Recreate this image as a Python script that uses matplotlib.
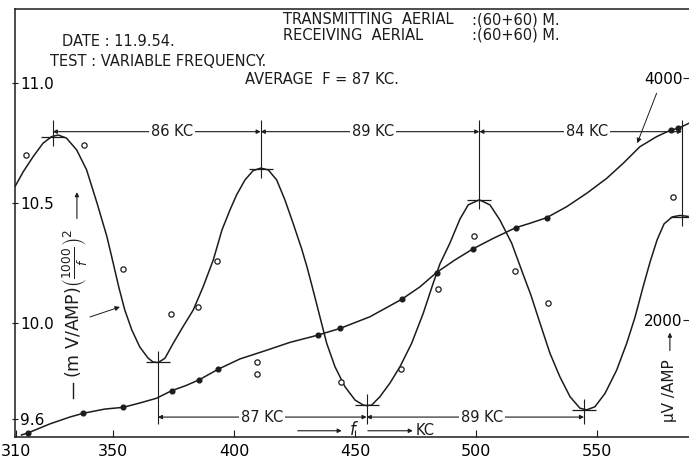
import matplotlib
matplotlib.use("Agg")
import matplotlib.pyplot as plt

plt.rcParams['font.family'] = ['DejaVu Sans']
ink = '#1c1c1c'

# (mV/AMP)(1000/f)^2 curve, left scale
curve_f = [309.5, 312.8, 316.9, 321.0, 324.5, 327.3, 330.7, 334.9, 339.0, 343.3,
           347.4, 349.9, 352.4, 354.8, 357.7, 361.0, 364.4, 366.4, 368.6, 371.4,
           374.8, 378.9, 383.1, 387.2, 391.4, 395.0, 398.3, 401.0, 404.5, 407.9,
           411.0, 414.1, 417.6, 421.0, 424.4, 427.9, 430.1, 432.2, 435.5, 438.3,
           441.7, 445.8, 450.0, 453.4, 455.0, 456.9, 460.3, 464.4, 468.6, 473.4,
           478.2, 482.3, 485.1, 489.2, 493.4, 496.8, 501.4, 505.8, 509.9, 514.8,
           519.6, 522.7, 526.5, 530.6, 534.7, 538.9, 543.0, 545.8, 549.2, 553.4,
           558.2, 562.4, 565.8, 569.1, 572.0, 574.9, 577.8, 581.2, 584.4, 587.7]
curve_v = [10.57, 10.63, 10.693, 10.749, 10.776, 10.783, 10.77, 10.721, 10.638, 10.50,
           10.36, 10.254, 10.146, 10.054, 9.971, 9.90, 9.854, 9.838, 9.835, 9.853,
           9.915, 9.985, 10.054, 10.151, 10.263, 10.388, 10.471, 10.533, 10.596, 10.635,
           10.645, 10.638, 10.596, 10.513, 10.415, 10.31, 10.235, 10.155, 10.025, 9.915,
           9.818, 9.735, 9.679, 9.658, 9.656, 9.658, 9.693, 9.749, 9.818, 9.915,
           10.04, 10.165, 10.246, 10.332, 10.433, 10.492, 10.513, 10.492, 10.429, 10.332,
           10.20, 10.117, 9.999, 9.874, 9.776, 9.693, 9.645, 9.638, 9.651, 9.707,
           9.804, 9.917, 10.025, 10.15, 10.254, 10.346, 10.413, 10.442, 10.448, 10.444]

# open circles (measured points for the curve above)
circ_f = [313.8, 338.0, 354.1, 373.9, 385.0, 393.0, 409.3, 409.3, 444.2, 468.9,
          484.4, 499.3, 516.0, 529.7, 581.3]
circ_v = [10.70, 10.742, 10.224, 10.036, 10.065, 10.26, 9.837, 9.788, 9.753, 9.808,
          10.143, 10.363, 10.217, 10.082, 10.526]

# uV/AMP curve, right scale
uv_f = [312.1, 314.7, 323.8, 332.1, 337.6, 346.6, 354.1, 361.0, 367.9, 374.2,
        379.7, 385.4, 393.4, 402.4, 412.7, 423.1, 434.5, 443.9, 456.2, 469.3,
        476.8, 483.7, 491.3, 498.9, 507.2, 516.5, 522.3, 529.2, 537.5, 545.8,
        554.1, 560.9, 567.8, 574.7, 580.6, 583.7, 588.1]
uv_r = [1050, 1066, 1141, 1198, 1229, 1264, 1278, 1314, 1353, 1416,
        1455, 1504, 1593, 1678, 1745, 1815, 1874, 1931, 2027, 2171,
        2273, 2392, 2496, 2589, 2675, 2763, 2799, 2845, 2936, 3047,
        3171, 3295, 3432, 3515, 3570, 3584, 3626]
dot_f = [314.7, 337.6, 354.1, 374.2, 385.4, 393.4, 434.5, 443.9, 469.3, 483.7,
         498.9, 516.5, 529.2, 580.6, 583.7]
dot_r = [1066, 1229, 1278, 1416, 1504, 1593, 1874, 1931, 2171, 2392,
         2589, 2763, 2845, 3570, 3584]

# maxima / minima and the spacings between them
peak_f = [325.0, 411.0, 501.4, 585.2]
peak_v = [10.776, 10.642, 10.513, 10.443]
trough_f = [368.5, 454.8, 544.7]
trough_v = [9.838, 9.658, 9.638]
top_gaps = ['86 KC', '89 KC', '84 KC']
top_gap_pos = [374.3, 457.4, 545.8]
bot_gaps = ['87 KC', '89 KC']
bot_gap_pos = [411.5, 502.5]

x_ticks = [310, 350, 400, 450, 500, 550]
left_ticks = [9.6, 10.0, 10.5, 11.0]
right_ticks = [2000, 4000]

fig = plt.figure(figsize=(6.89, 4.66), dpi=100)
ax = fig.add_axes([15/689, 1 - 437/466, 1 - 15/689, 428/466])
ax.set_xlim(309.4, 588.1)
ax.set_ylim(9.525, 11.308)
ax2 = ax.twinx()
ax2.set_ylim(1033, 4570)

for s in ['left', 'top', 'bottom']:
    ax.spines[s].set_color(ink)
    ax.spines[s].set_linewidth(1.1)
ax.spines['right'].set_visible(False)
for s in ax2.spines.values():
    s.set_visible(False)

ax.set_xticks(x_ticks)
ax.set_xticklabels([str(t) for t in x_ticks])
ax.tick_params(axis='x', direction='in', length=5, pad=5, labelsize=11.5, color=ink)
ax.set_yticks(left_ticks)
ax.set_yticklabels(['9.6', '10.0', '10.5', '11.0'])
ax.tick_params(axis='y', direction='inout', length=4, pad=-5.5, labelsize=11, color=ink)
for lab in ax.get_yticklabels():
    lab.set_horizontalalignment('left')
ax2.set_yticks(right_ticks)
ax2.set_yticklabels(['2000', '4000'])
ax2.tick_params(axis='y', direction='in', length=4, pad=-4.5, labelsize=11, color=ink)
for lab in ax2.get_yticklabels():
    lab.set_horizontalalignment('right')

# curves and points
ax.plot(curve_f, curve_v, color=ink, lw=1.1, zorder=3)
ax.plot(circ_f, circ_v, 'o', ms=3.8, mfc='white', mec=ink, mew=0.9, zorder=4)
ax2.plot(uv_f, uv_r, color=ink, lw=1.1, zorder=3)
ax2.plot(dot_f, dot_r, 'o', ms=3.4, color=ink, zorder=4)

# crosses at maxima and minima
top_y = 10.797
bot_y = 9.608
ax.vlines(peak_f, [v - 0.04 for v in peak_v], top_y + 0.05, color=ink, lw=0.8)
ax.hlines(peak_v, [f - 5 for f in peak_f], [f + 5 for f in peak_f], color=ink, lw=0.9)
ax.vlines(trough_f, [v + 0.045 for v in trough_v], 9.58, color=ink, lw=0.8)
ax.hlines(trough_v, [f - 5 for f in trough_f], [f + 5 for f in trough_f], color=ink, lw=0.9)

arrow = dict(arrowstyle='<|-|>', lw=0.8, color=ink, shrinkA=0, shrinkB=0,
             mutation_scale=6)
for i, lab in enumerate(top_gaps):
    ax.annotate('', xy=(peak_f[i], top_y), xytext=(peak_f[i + 1], top_y),
                arrowprops=arrow, zorder=2)
    ax.text(top_gap_pos[i], top_y, lab, ha='center', va='center', fontsize=10.5,
            color=ink, zorder=5,
            bbox=dict(fc='white', ec='none', pad=1.5))
for i, lab in enumerate(bot_gaps):
    ax.annotate('', xy=(trough_f[i], bot_y), xytext=(trough_f[i + 1], bot_y),
                arrowprops=arrow, zorder=2)
    ax.text(bot_gap_pos[i], bot_y, lab, ha='center', va='center', fontsize=10.5,
            color=ink, zorder=5,
            bbox=dict(fc='white', ec='none', pad=1.5))

# f -> KC note under the minima
small = dict(arrowstyle='-|>', lw=0.8, color=ink, shrinkA=0, shrinkB=0,
             mutation_scale=6)
ax.annotate('', xy=(444.5, 9.551), xytext=(426.3, 9.551), arrowprops=small)
ax.text(449.5, 9.553, r'$f$', ha='center', va='center', fontsize=12, color=ink)
ax.annotate('', xy=(473.9, 9.551), xytext=(455.3, 9.551), arrowprops=small)
ax.text(475.0, 9.553, 'KC', ha='left', va='center', fontsize=10.5, color=ink)

# axis captions
ax.text(334.0, 10.08, r'$(\mathrm{m\ V/AMP})\left(\frac{1000}{f}\right)^{2}$',
        rotation=90, ha='center', va='center', fontsize=12.5, color=ink)
ax.plot([333.3, 333.3], [9.6875, 9.75], color=ink, lw=1.0)
ax.annotate('', xy=(335.0, 10.545), xytext=(335.0, 10.435), arrowprops=small)
ax.annotate('', xy=(352.8, 10.067), xytext=(340.4, 10.025),
            arrowprops=dict(arrowstyle='-|>', lw=0.7, color=ink, mutation_scale=7,
                            shrinkA=0, shrinkB=0))

ax.text(580.2, 9.72, 'μV /AMP', rotation=90, ha='center', va='center',
        fontsize=11, color=ink)
ax.annotate('', xy=(580.2, 9.96), xytext=(580.2, 9.885), arrowprops=small)
ax.annotate('', xy=(566.7, 10.749), xytext=(574.7, 10.957),
            arrowprops=dict(arrowstyle='-|>', lw=0.7, color=ink, mutation_scale=7,
                            shrinkA=0, shrinkB=0))

# header notes
hdr = dict(fontsize=10.5, color=ink, va='center', ha='left')
fig.text(283/689, 1 - 20/466, 'TRANSMITTING  AERIAL', **hdr)
fig.text(472/689, 1 - 20/466, ':(60+60) M.', **hdr)
fig.text(283/689, 1 - 35/466, 'RECEIVING  AERIAL', **hdr)
fig.text(472/689, 1 - 35/466, ':(60+60) M.', **hdr)
fig.text(62/689, 1 - 42/466, 'DATE : 11.9.54.', **hdr)
fig.text(50/689, 1 - 62/466, 'TEST : VARIABLE FREQUENCY.', **hdr)
fig.text(245/689, 1 - 80/466, 'AVERAGE  F = 87 KC.', **hdr)

fig.savefig('out.png', dpi=100, facecolor='white')
